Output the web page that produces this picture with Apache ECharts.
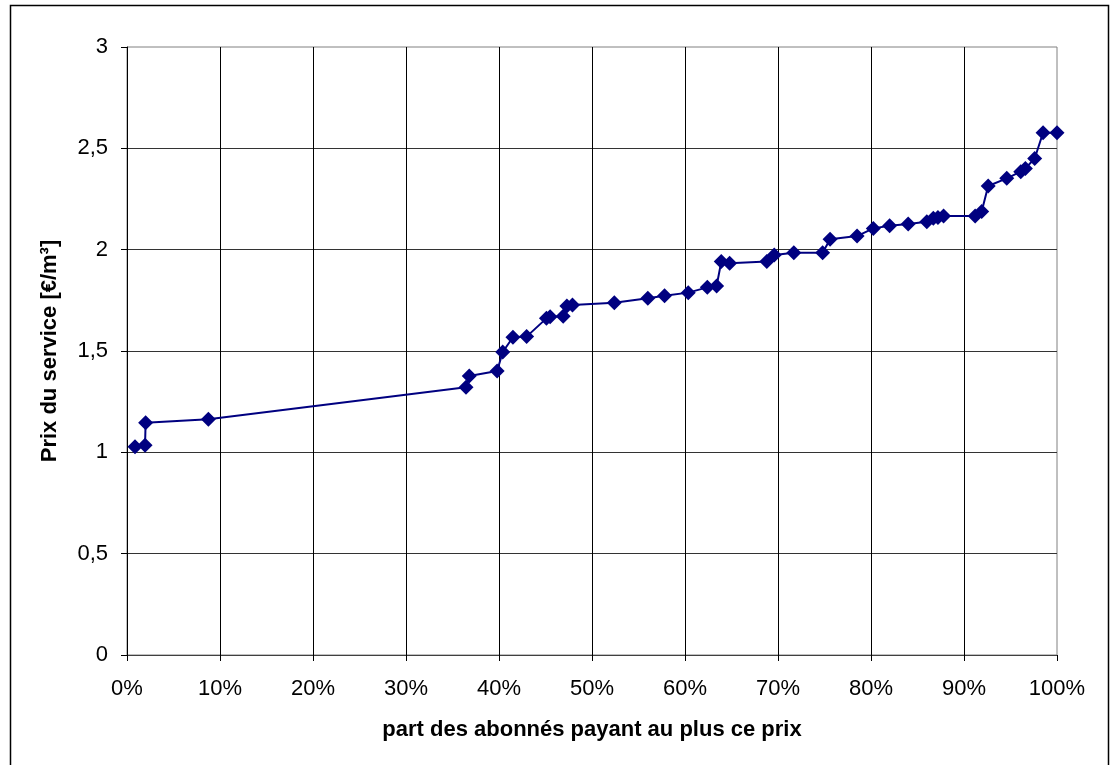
<!DOCTYPE html>
<html><head><meta charset="utf-8">
<script src="https://cdn.jsdelivr.net/npm/echarts@6/dist/echarts.min.js"></script>
<style>html,body{margin:0;padding:0;background:#fff}#c{width:1117px;height:765px}</style>
</head><body><div id="c"></div>
<script>
var shareSubscribers = [0.86, 1.94, 2.0, 8.75, 36.45, 36.8, 39.8, 40.4, 41.5, 42.97, 45.1, 45.5, 46.9, 47.3, 47.9, 52.4, 56.0, 57.8, 60.35, 62.4, 63.4, 63.9, 64.8, 68.8, 69.6, 71.7, 74.8, 75.6, 78.5, 80.25, 82.0, 84.0, 86.0, 86.7, 87.2, 87.8, 91.2, 91.9, 92.6, 94.6, 96.1, 96.6, 97.6, 98.5, 100];
var servicePrice = [1.028, 1.035, 1.146, 1.163, 1.321, 1.377, 1.401, 1.495, 1.568, 1.571, 1.661, 1.669, 1.672, 1.722, 1.727, 1.738, 1.760, 1.773, 1.788, 1.814, 1.821, 1.941, 1.933, 1.941, 1.974, 1.985, 1.985, 2.051, 2.067, 2.105, 2.118, 2.127, 2.138, 2.155, 2.159, 2.166, 2.166, 2.188, 2.314, 2.352, 2.385, 2.401, 2.450, 2.577, 2.577];
var xTitle = 'part des abonnés payant au plus ce prix';
var yTitle = 'Prix du service [€/m³]';

var pts = shareSubscribers.map(function(x, i){ return [x, servicePrice[i]]; });
var chart = echarts.init(document.getElementById('c'), null, {renderer: 'canvas'});
var F = 'Liberation Sans, Arial, sans-serif';
chart.setOption({
  animation: false,
  backgroundColor: '#fff',
  graphic: [{
    type: 'rect', shape: {x: 10.5, y: 5.5, width: 1098, height: 780},
    style: {fill: 'none', stroke: '#000', lineWidth: 1.5}, z: -10
  }],
  grid: {left: 127, right: 60, top: 47, bottom: 110, show: true, borderColor: '#808080', borderWidth: 1, backgroundColor: '#fff'},
  xAxis: {
    type: 'value', min: 0, max: 100, interval: 10,
    name: xTitle, nameLocation: 'middle', nameGap: 64,
    nameTextStyle: {fontFamily: F, fontSize: 22, fontWeight: 'bold', color: '#000'},
    axisLine: {show: true, onZero: false, lineStyle: {color: '#404040', width: 1}},
    axisTick: {show: true, inside: false, length: 6, lineStyle: {color: '#000'}},
    axisLabel: {formatter: '{value}%', fontFamily: F, fontSize: 22, color: '#000', margin: 23},
    splitLine: {show: true, showMinLine: false, showMaxLine: false, lineStyle: {color: '#000', width: 1}}
  },
  yAxis: {
    type: 'value', min: 0, max: 3, interval: 0.5,
    name: yTitle, nameLocation: 'middle', nameGap: 66, nameRotate: 90,
    nameTextStyle: {fontFamily: F, fontSize: 22, fontWeight: 'bold', color: '#000'},
    axisLine: {show: true, lineStyle: {color: '#000', width: 1}},
    axisTick: {show: true, inside: false, length: 6, lineStyle: {color: '#000'}},
    axisLabel: {fontFamily: F, fontSize: 22, color: '#000', margin: 19,
      formatter: function(v){ return String(v).replace('.', ','); }},
    splitLine: {show: true, showMinLine: false, showMaxLine: false, lineStyle: {color: '#333', width: 1}}
  },
  series: [{
    type: 'line', data: pts,
    symbol: 'diamond', symbolSize: 15,
    itemStyle: {color: '#000080'},
    lineStyle: {color: '#000080', width: 2}
  }]
});
</script></body></html>
